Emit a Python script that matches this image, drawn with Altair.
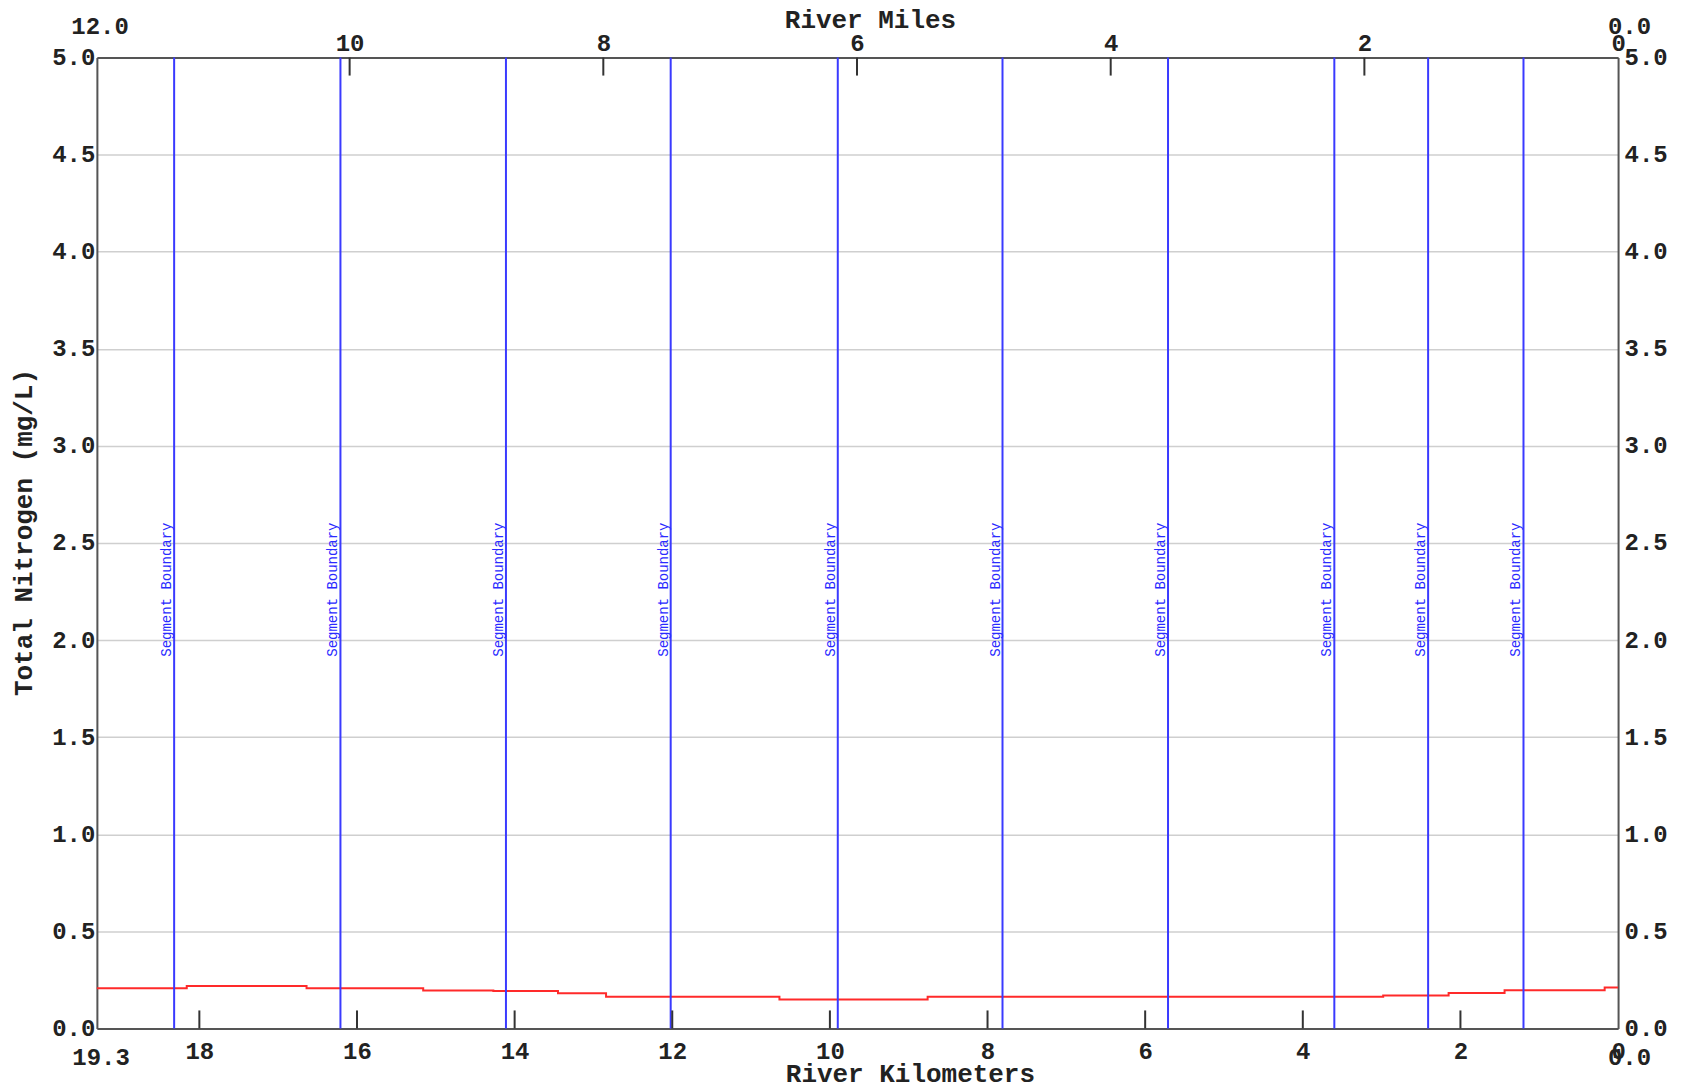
import altair as alt
import pandas as pd

# ---------------- data ----------------
# Total nitrogen profile (piecewise constant by model segment), river km of segment start
seg_start_km = [0.0, 0.17, 1.44, 2.15, 2.98, 8.76, 10.64, 12.84, 13.45, 14.27, 15.16, 16.64, 18.16, 19.3]
tn_mg_l = [0.211, 0.196, 0.182, 0.170, 0.163, 0.149, 0.163, 0.181, 0.193, 0.195, 0.207, 0.219, 0.207, 0.207]

# segment boundaries (river km)
boundary_km = [18.32, 16.21, 14.11, 12.02, 9.90, 7.81, 5.71, 3.60, 2.41, 1.20]
boundary_labels = ["Segment Boundary"] * len(boundary_km)

km_max = 19.3
km_tick_vals = [18, 16, 14, 12, 10, 8, 6, 4, 2]
km_label_vals = [18, 16, 14, 12, 10, 8, 6, 4, 2, 0]
km_end_vals = [19.3, 0.0]
km_end_labels = ["19.3", "0.0"]

mi_max = km_max / 1.609344
mi_tick_vals = [10, 8, 6, 4, 2]
mi_label_vals = [10, 8, 6, 4, 2, 0]
mi_end_vals = [12.0, 0.0]
mi_end_labels = ["12.0", "0.0"]

y_ticks = [0.0, 0.5, 1.0, 1.5, 2.0, 2.5, 3.0, 3.5, 4.0, 4.5, 5.0]

# ---------------- layout ----------------
W, H = 1523, 972
FONT = "Liberation Mono"
LBL = 24
TTL = 26
FRAME = "#555555"

df_line = pd.DataFrame({"km": seg_start_km, "tn": tn_mg_l})
df_bnd = pd.DataFrame({"km": boundary_km, "lab": boundary_labels})
df_kt = pd.DataFrame({"km": km_tick_vals})
df_kend = pd.DataFrame({"km": km_end_vals, "lab": km_end_labels})
df_mt = pd.DataFrame({"mi": mi_tick_vals})
df_mend = pd.DataFrame({"mi": mi_end_vals, "lab": mi_end_labels})

xs_km = alt.Scale(domain=[km_max, 0], nice=False, zero=False)
xs_mi = alt.Scale(domain=[mi_max, 0], nice=False, zero=False)
ys = alt.Scale(domain=[0, 5], nice=False, zero=False)

common_axis = dict(
    labelFont=FONT, labelFontSize=LBL, labelFontWeight="bold", labelColor="#222222",
    titleFont=FONT, titleFontSize=TTL, titleFontWeight="bold", titleColor="#222222",
    ticks=False, domain=True, domainColor=FRAME, domainWidth=2,
    labelFlush=False, labelOverlap=False,
)

ax_km = alt.Axis(
    orient="bottom", values=km_label_vals, format="d", title="River Kilometers",
    grid=False, labelPadding=11,
    titleX=814, titleY=45, titleAlign="center", titleBaseline="middle",
    **common_axis)
ax_left = alt.Axis(
    orient="left", values=y_ticks, format=".1f", title="Total Nitrogen (mg/L)",
    grid=True, gridColor="#cfcfcf", gridWidth=1.5, labelPadding=2,
    titleX=-73, titleY=475, titleAngle=270, titleAlign="center", titleBaseline="middle",
    **common_axis)
ax_mi = alt.Axis(
    orient="top", values=mi_label_vals, format="d", title="River Miles",
    grid=False, labelPadding=2,
    titleX=774, titleY=-38, titleAlign="center", titleBaseline="middle",
    **common_axis)
ax_right = alt.Axis(
    orient="right", values=y_ticks, format=".1f", title=None, grid=False,
    labelPadding=6, **common_axis)

X_KM = alt.X("km:Q", scale=xs_km, axis=ax_km, title="River Kilometers")
X_MI = alt.X("mi:Q", scale=xs_mi, axis=ax_mi, title="River Miles")

line = alt.Chart(df_line).mark_line(
    interpolate="step-before", color="#ff2a2a", strokeWidth=2
).encode(
    x=X_KM,
    y=alt.Y("tn:Q", scale=ys, axis=ax_left, title="Total Nitrogen (mg/L)"),
)

rules = alt.Chart(df_bnd).mark_rule(color="#3a3aff", strokeWidth=2).encode(
    x=X_KM
)

bnd_text = alt.Chart(df_bnd).mark_text(
    angle=270, align="center", baseline="bottom", font=FONT, fontSize=14, color="#2a2aff"
).encode(
    x=X_KM,
    y=alt.Y(datum=2.26, scale=ys, axis=ax_left, title="Total Nitrogen (mg/L)"),
    text="lab:N",
)

km_ticks = alt.Chart(df_kt).mark_rule(color="#333333", strokeWidth=2).encode(
    x=X_KM,
    y=alt.value(H), y2=alt.value(H - 18),
)

km_end = alt.Chart(df_kend).mark_text(
    align="right", baseline="middle", dx=33, font=FONT, fontSize=LBL, fontWeight="bold", color="#222222"
).encode(
    x=X_KM,
    y=alt.value(H + 30),
    text="lab:N",
)

km_layer = alt.layer(line, rules, bnd_text, km_ticks, km_end)

mi_ticks = alt.Chart(df_mt).mark_rule(color="#333333", strokeWidth=2).encode(
    x=X_MI,
    y=alt.value(0), y2=alt.value(18),
)

right_axis = alt.Chart(df_mt).mark_point(opacity=0).transform_calculate(y0="0").encode(
    x=X_MI,
    y=alt.Y("y0:Q", scale=ys, axis=ax_right),
)

mi_end = alt.Chart(df_mend).mark_text(
    align="right", baseline="middle", dx=33, font=FONT, fontSize=LBL, fontWeight="bold", color="#222222"
).encode(
    x=X_MI,
    y=alt.value(-31),
    text="lab:N",
)

mi_layer = alt.layer(mi_ticks, right_axis, mi_end)

chart = alt.layer(km_layer, mi_layer).resolve_scale(
    x="independent", y="independent"
).properties(
    width=W, height=H,
    autosize=alt.AutoSizeParams(type="none"),
    padding={"left": 89, "top": 49, "right": 60, "bottom": 55},
).configure_view(
    stroke=FRAME, strokeWidth=2
).configure(
    background="white"
)

chart.save("out.html", embed_options={"renderer": "svg", "actions": False})
